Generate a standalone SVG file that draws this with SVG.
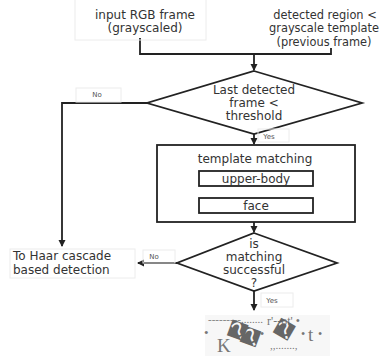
<svg xmlns="http://www.w3.org/2000/svg" width="382" height="356" viewBox="0 0 382 356">
<style>
.t{font-family:"DejaVu Sans",sans-serif;font-size:12px;fill:#333;text-anchor:middle}
.tr{font-family:"DejaVu Sans",sans-serif;font-size:11.4px;fill:#333;text-anchor:middle}
.tl{font-family:"DejaVu Sans",sans-serif;font-size:12px;fill:#333}
.lbl{font-family:"DejaVu Sans",sans-serif;font-size:7px;fill:#555;text-anchor:middle}
.ln{fill:none;stroke:#222;stroke-width:1.8}
.box{fill:#fff;stroke:#222;stroke-width:1.8}
.faint{fill:none;stroke:#ececec;stroke-width:1}
.g{font-family:"Liberation Serif",serif;fill:#777}
.q{font-family:"DejaVu Sans",sans-serif;fill:#666}
</style>
<defs>
<marker id="ah" markerWidth="8" markerHeight="8" refX="6" refY="4" orient="auto" markerUnits="userSpaceOnUse">
<path d="M0,0.5 L7,4 L0,7.5 Z" fill="#222"/>
</marker>
</defs>
<rect width="382" height="356" fill="#fff"/>

<g id="connectors">
<polyline class="ln" points="140,38 140,54 331,54 331,48"/>
<line class="ln" x1="254" y1="54" x2="254" y2="70" marker-end="url(#ah)"/>
<polyline class="ln" points="147,103 62,103 62,246" marker-end="url(#ah)"/>
<line class="ln" x1="254" y1="134" x2="254" y2="144" marker-end="url(#ah)"/>
<line class="ln" x1="254" y1="186" x2="254" y2="197" marker-end="url(#ah)"/>
<line class="ln" x1="254" y1="213" x2="254" y2="221" marker-end="url(#ah)"/>
<line class="ln" x1="254" y1="222" x2="254" y2="232" marker-end="url(#ah)"/>
<line class="ln" x1="177" y1="263" x2="138" y2="263" marker-end="url(#ah)"/>
<line class="ln" x1="254" y1="291" x2="254" y2="310" marker-end="url(#ah)"/>
</g>

<g id="input-frame">
<rect class="faint" x="75" y="-2" width="131" height="42"/>
<text class="t" x="145" y="19">input RGB frame</text>
<text class="t" x="145" y="32">(grayscaled)</text>
</g>

<g id="detected-region">
<text class="tr" x="325" y="19">detected region &lt;</text>
<text class="tr" x="324" y="32">grayscale template</text>
<text class="tr" x="324" y="46">(previous frame)</text>
</g>

<g id="decision-threshold">
<polygon class="box" points="254,71 362,103 254,134 147,103"/>
<text class="t" x="254" y="94">Last detected</text>
<text class="t" x="254" y="107">frame &lt;</text>
<text class="t" x="254" y="120">threshold</text>
</g>

<g id="label-no-1">
<rect class="faint" x="76" y="88" width="45" height="14"/>
<text class="lbl" x="97" y="97">No</text>
</g>

<g id="label-yes-1">
<rect class="faint" x="258" y="129" width="31" height="13"/>
<text class="lbl" x="269" y="139">Yes</text>
</g>

<g id="template-matching">
<rect class="box" x="157" y="145" width="198" height="77"/>
<text class="t" x="255" y="163">template matching</text>
</g>

<g id="upper-body">
<rect class="box" x="199" y="171" width="114" height="15"/>
<text class="t" x="256" y="183">upper-body</text>
</g>

<g id="face">
<rect class="box" x="199" y="198" width="114" height="15"/>
<text class="t" x="256" y="210">face</text>
</g>

<g id="decision-matching">
<polygon class="box" points="254,233 337,263 254,291 177,263"/>
<text class="t" x="254" y="248">is</text>
<text class="t" x="254" y="261">matching</text>
<text class="t" x="254" y="274">successful</text>
<text class="t" x="254" y="287">?</text>
</g>

<g id="label-no-2">
<rect class="faint" x="143" y="250" width="32" height="13"/>
<text class="lbl" x="154" y="259">No</text>
</g>

<g id="label-yes-2">
<rect class="faint" x="261" y="293" width="32" height="14"/>
<text class="lbl" x="272" y="303">Yes</text>
</g>

<g id="haar-detection">
<rect class="faint" x="10" y="249" width="125" height="29"/>
<text class="tl" x="13" y="260">To Haar cascade</text>
<text class="tl" x="13" y="274">based detection</text>
</g>

<g id="garbled-output">
<rect x="205" y="315" width="125" height="41" fill="#f7f7f7"/>
<text class="g" x="208" y="323" font-size="11">---------........</text>
<text class="g" x="267" y="325" font-size="12">r'--ot' •</text>
<text class="g" x="204" y="337" font-size="13">•</text>
<text class="g" x="217" y="352" font-size="19">K</text>
<text class="q" x="239" y="340" font-size="24" text-anchor="middle" transform="rotate(-25 239 333)">�</text>
<text class="q" x="252" y="346" font-size="24" text-anchor="middle" transform="rotate(-25 252 340)">�</text>
<text class="g" x="260" y="338" font-size="12">•</text>
<text class="q" x="285" y="339" font-size="24" text-anchor="middle" transform="rotate(-15 285 332)">�</text>
<text class="g" x="301" y="338" font-size="12">•</text>
<text class="g" x="308" y="341" font-size="19">t</text>
<text class="g" x="318" y="338" font-size="12">•</text>
<text class="g" x="270" y="349" font-size="11">,,.......,</text>
</g>
</svg>
